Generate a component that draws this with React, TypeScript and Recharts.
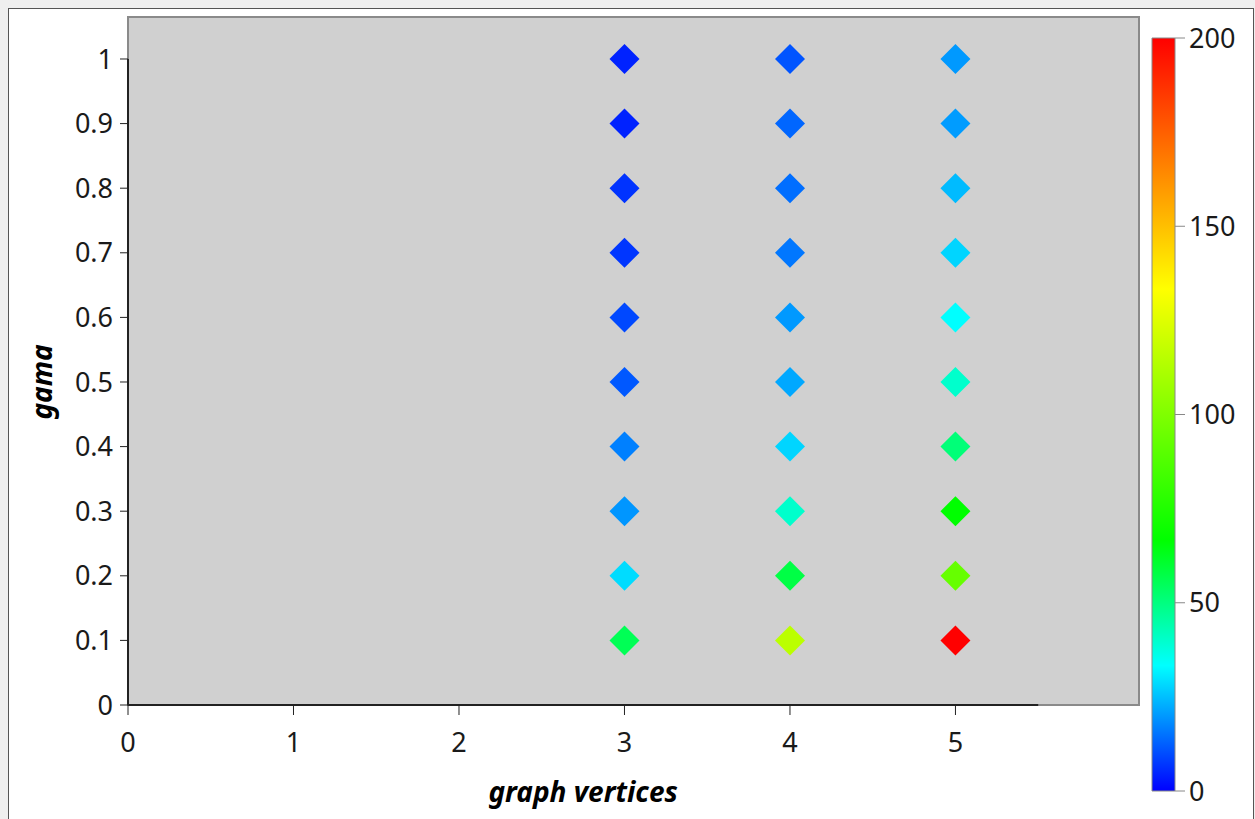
import {
  ScatterChart,
  Scatter,
  XAxis,
  YAxis,
  ReferenceArea,
  ReferenceLine,
  BarChart,
  Bar,
} from 'recharts';

const vertices = [3, 4, 5];
const gamma = [1, 0.9, 0.8, 0.7, 0.6, 0.5, 0.4, 0.3, 0.2, 0.1];
const valuesV3 = [4.4, 4.5, 6.7, 7, 9.4, 11.5, 16.7, 19.6, 28.8, 55.5];
const valuesV4 = [11, 13.3, 14.4, 15.5, 20, 22, 27.8, 40, 57.7, 115.6];
const valuesV5 = [20, 20.4, 24.4, 27.8, 33.3, 40, 51, 66.7, 93.3, 200];
const xTicks = [0, 1, 2, 3, 4, 5];
const yTicks = [0, 0.1, 0.2, 0.3, 0.4, 0.5, 0.6, 0.7, 0.8, 0.9, 1];
const scaleTicks = [0, 50, 100, 150, 200];
const scaleMax = 200;

// rainbow map used by the colour bar
const stops: [number, number[]][] = [
  [0, [0, 0, 255]],
  [1 / 6, [0, 255, 255]],
  [1 / 3, [0, 255, 0]],
  [2 / 3, [255, 255, 0]],
  [1, [255, 0, 0]],
];

function colorFor(v: number) {
  const t = Math.max(0, Math.min(1, v / scaleMax));
  for (let i = 1; i < stops.length; i++) {
    const [t1, c1] = stops[i];
    const [t0, c0] = stops[i - 1];
    if (t <= t1) {
      const f = (t - t0) / (t1 - t0);
      const c = c0.map((a, k) => Math.round(a + (c1[k] - a) * f));
      return `rgb(${c[0]},${c[1]},${c[2]})`;
    }
  }
  return 'rgb(255,0,0)';
}

const columns = [valuesV3, valuesV4, valuesV5];
const points = vertices.flatMap((x, i) =>
  gamma.map((g, j) => ({ x, y: g, v: columns[i][j] }))
);

const font = '"Noto Sans", sans-serif';
const tickStyle = { fontSize: 27, fill: '#1a1a1a', fontFamily: font };

function Diamond(props: any) {
  const { cx, cy, payload } = props;
  const r = 15;
  return (
    <polygon
      points={`${cx},${cy - r} ${cx + r},${cy} ${cx},${cy + r} ${cx - r},${cy}`}
      fill={colorFor(payload.v)}
    />
  );
}

function XTitle({ viewBox }: any) {
  return (
    <text
      x={viewBox.x + viewBox.width / 2}
      y={viewBox.y + 97}
      textAnchor="middle"
      fontSize={28}
      fontWeight="bold"
      fontStyle="italic"
      fontFamily={font}
      fill="#000"
    >
      graph vertices
    </text>
  );
}

function YTitle({ viewBox }: any) {
  const x = viewBox.x - 76;
  const y = viewBox.y + viewBox.height / 2;
  return (
    <text
      x={x}
      y={y}
      textAnchor="middle"
      transform={`rotate(-90 ${x} ${y})`}
      fontSize={28}
      fontWeight="bold"
      fontStyle="italic"
      fontFamily={font}
      fill="#000"
    >
      gama
    </text>
  );
}

export default function App() {
  return (
    <div style={{ position: 'absolute', left: 0, top: 0, width: 1255, height: 819, background: '#efefef', overflow: 'hidden' }}>
      <div
        style={{
          position: 'absolute',
          left: 8,
          top: 8,
          width: 1244,
          height: 830,
          border: '1px solid #555',
          background: '#fff',
        }}
      />
      <div style={{ position: 'absolute', left: 0, top: 0 }}>
        <ScatterChart
          width={1255}
          height={819}
          margin={{ top: 17, right: 116, left: 0, bottom: 54 }}
        >
          <ReferenceArea
            x1={0}
            x2={6.109}
            y1={0}
            y2={1.065}
            fill="#d0d0d0"
            fillOpacity={1}
            stroke="#8a8a8a"
            strokeWidth={2}
          />
          <XAxis
            type="number"
            dataKey="x"
            domain={[0, 6.109]}
            allowDataOverflow
            ticks={xTicks}
            axisLine={false}
            tickLine={{ stroke: '#222' }}
            tickSize={10}
            tickMargin={18}
            tick={tickStyle}
            height={60}
          />
          <YAxis
            type="number"
            dataKey="y"
            domain={[0, 1.065]}
            allowDataOverflow
            ticks={yTicks}
            axisLine={false}
            tickLine={{ stroke: '#222' }}
            tickSize={8}
            tickMargin={7}
            tick={tickStyle}
            width={128}
          />
          <ReferenceLine
            segment={[{ x: 0, y: 0 }, { x: 5.5, y: 0 }]}
            stroke="#222"
            strokeWidth={2}
            label={<XTitle />}
          />
          <ReferenceLine
            segment={[{ x: 0, y: 0 }, { x: 0, y: 1 }]}
            stroke="#222"
            strokeWidth={2}
            label={<YTitle />}
          />
          <Scatter data={points} shape={<Diamond />} isAnimationActive={false} />
        </ScatterChart>
      </div>
      <div style={{ position: 'absolute', left: 1140, top: 20 }}>
        <BarChart
          width={115}
          height={790}
          data={[{ name: 'scale', v: scaleMax }]}
          margin={{ top: 18, right: 0, left: 12, bottom: 19 }}
          barCategoryGap={0}
        >
          <defs>
            <linearGradient id="rainbow" x1="0" y1="1" x2="0" y2="0">
              {stops.map(([t, c]) => (
                <stop key={t} offset={t} stopColor={`rgb(${c[0]},${c[1]},${c[2]})`} />
              ))}
            </linearGradient>
          </defs>
          <XAxis dataKey="name" hide />
          <YAxis
            orientation="right"
            domain={[0, scaleMax]}
            ticks={scaleTicks}
            axisLine={false}
            tickLine={{ stroke: '#888' }}
            tickSize={10}
            tickMargin={4}
            tick={tickStyle}
            width={80}
          />
          <Bar dataKey="v" fill="url(#rainbow)" stroke="#888" strokeWidth={1} isAnimationActive={false} />
        </BarChart>
      </div>
    </div>
  );
}
